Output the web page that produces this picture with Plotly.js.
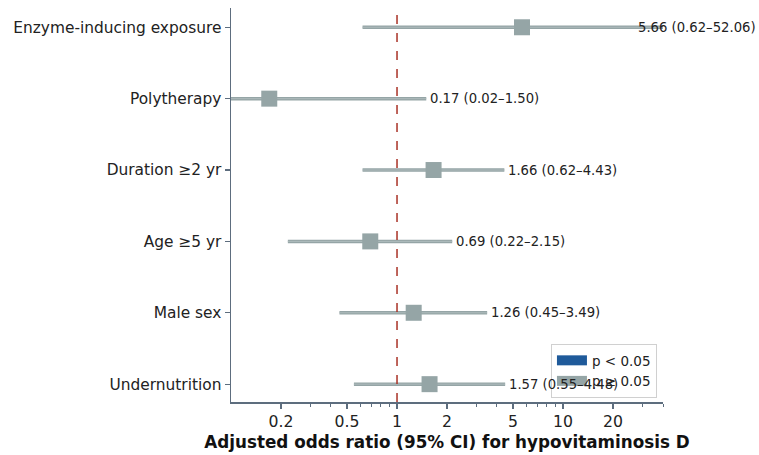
<!DOCTYPE html>
<html>
<head>
<meta charset="utf-8">
<script src="https://cdn.plot.ly/plotly-3.0.1.min.js"></script>
<style>html,body{margin:0;padding:0;background:#fff;}</style>
</head>
<body>
<div id="chart" style="width:759px;height:455px;"></div>
<script>
// Data (top to bottom)
const factors = ["Enzyme-inducing exposure", "Polytherapy", "Duration ≥2 yr", "Age ≥5 yr", "Male sex", "Undernutrition"];
const oddsRatio = [5.66, 0.17, 1.66, 0.69, 1.26, 1.57];
const ciLow = [0.62, 0.02, 0.62, 0.22, 0.45, 0.55];
const ciHigh = [52.06, 1.50, 4.43, 2.15, 3.49, 4.48];
const pValue = [0.12, 0.11, 0.31, 0.52, 0.66, 0.40];
const xTickVals = [0.2, 0.5, 1, 2, 5, 10, 20];
const xTickText = ["0.2", "0.5", "1", "2", "5", "10", "20"];
const xMinorVals = [0.3, 0.4, 0.6, 0.7, 0.8, 0.9, 3, 4, 6, 7, 8, 9, 30, 40];

const SIG = "#1f5a9a", NS = "#95a5a6", SPINE = "#5d6d7e";
const FONT = "DejaVu Sans, sans-serif";

// CI lines
const lx = [], ly = [];
factors.forEach((f, i) => { lx.push(ciLow[i], ciHigh[i], null); ly.push(f, f, null); });

const traces = [
  { type: "scatter", mode: "lines", x: lx, y: ly, line: { color: NS, width: 3.5 }, showlegend: false, hoverinfo: "skip" },
  { type: "scatter", mode: "lines", x: lx, y: ly, line: { color: "#aebbbc", width: 1 }, showlegend: false, hoverinfo: "skip" },
  { type: "scatter", mode: "markers", x: oddsRatio, y: factors,
    marker: { symbol: "square", size: 16, color: pValue.map(p => p < 0.05 ? SIG : NS) }, showlegend: false },
  { type: "scatter", mode: "lines", x: [null], y: [null], name: "p < 0.05", line: { color: SIG, width: 10 } },
  { type: "scatter", mode: "lines", x: [null], y: [null], name: "p ≥ 0.05", line: { color: NS, width: 10 } }
];

const annotations = factors.map((f, i) => ({
  x: Math.log10(Math.min(ciHigh[i] * 1.03, 27.5)), y: f, xref: "x", yref: "y",
  text: oddsRatio[i].toFixed(2) + " (" + ciLow[i].toFixed(2) + "–" + ciHigh[i].toFixed(2) + ")",
  showarrow: false, xanchor: "left", yanchor: "middle",
  font: { family: FONT, size: 13.2, color: "#222" }
}));

const layout = {
  width: 759, height: 455,
  margin: { l: 231, r: 96, t: 8, b: 53 },
  paper_bgcolor: "#fff", plot_bgcolor: "#fff",
  font: { family: FONT, color: "#222" },
  xaxis: {
    type: "log", range: [-1, Math.log10(40)],
    tickmode: "array", tickvals: xTickVals, ticktext: xTickText,
    ticks: "outside", ticklen: 5, tickwidth: 1.2, tickcolor: SPINE,
    minor: { tickmode: "array", tickvals: xMinorVals, ticks: "outside", ticklen: 3, tickwidth: 1, tickcolor: SPINE },
    showline: true, linecolor: SPINE, linewidth: 1.5, showgrid: false, zeroline: false,
    tickfont: { family: FONT, size: 15.7, color: "#222" },
    title: { text: "<b>Adjusted odds ratio (95% CI) for hypovitaminosis D</b>", font: { family: FONT, size: 16.8, color: "#111" }, standoff: 6 }
  },
  yaxis: {
    type: "category", categoryorder: "array", categoryarray: factors,
    range: [5.25, -0.27],
    ticks: "outside", ticklen: 5, tickwidth: 1.2, tickcolor: SPINE,
    showline: true, linecolor: SPINE, linewidth: 1.5, showgrid: false, zeroline: false,
    tickfont: { family: FONT, size: 15.4, color: "#222" }
  },
  shapes: [{ type: "line", xref: "x", yref: "paper", x0: 1, x1: 1, y0: 0, y1: 1,
    line: { color: "#a93226", width: 1.5, dash: "dash" } }],
  annotations: annotations,
  legend: {
    x: 0.986, y: 0.01, xanchor: "right", yanchor: "bottom",
    bgcolor: "rgba(255,255,255,0.8)", bordercolor: "#d0d0d0", borderwidth: 1,
    font: { family: FONT, size: 13.5, color: "#222" }
  },
  showlegend: true
};

Plotly.newPlot("chart", traces, layout, { displayModeBar: false, staticPlot: true });
</script>
</body>
</html>
